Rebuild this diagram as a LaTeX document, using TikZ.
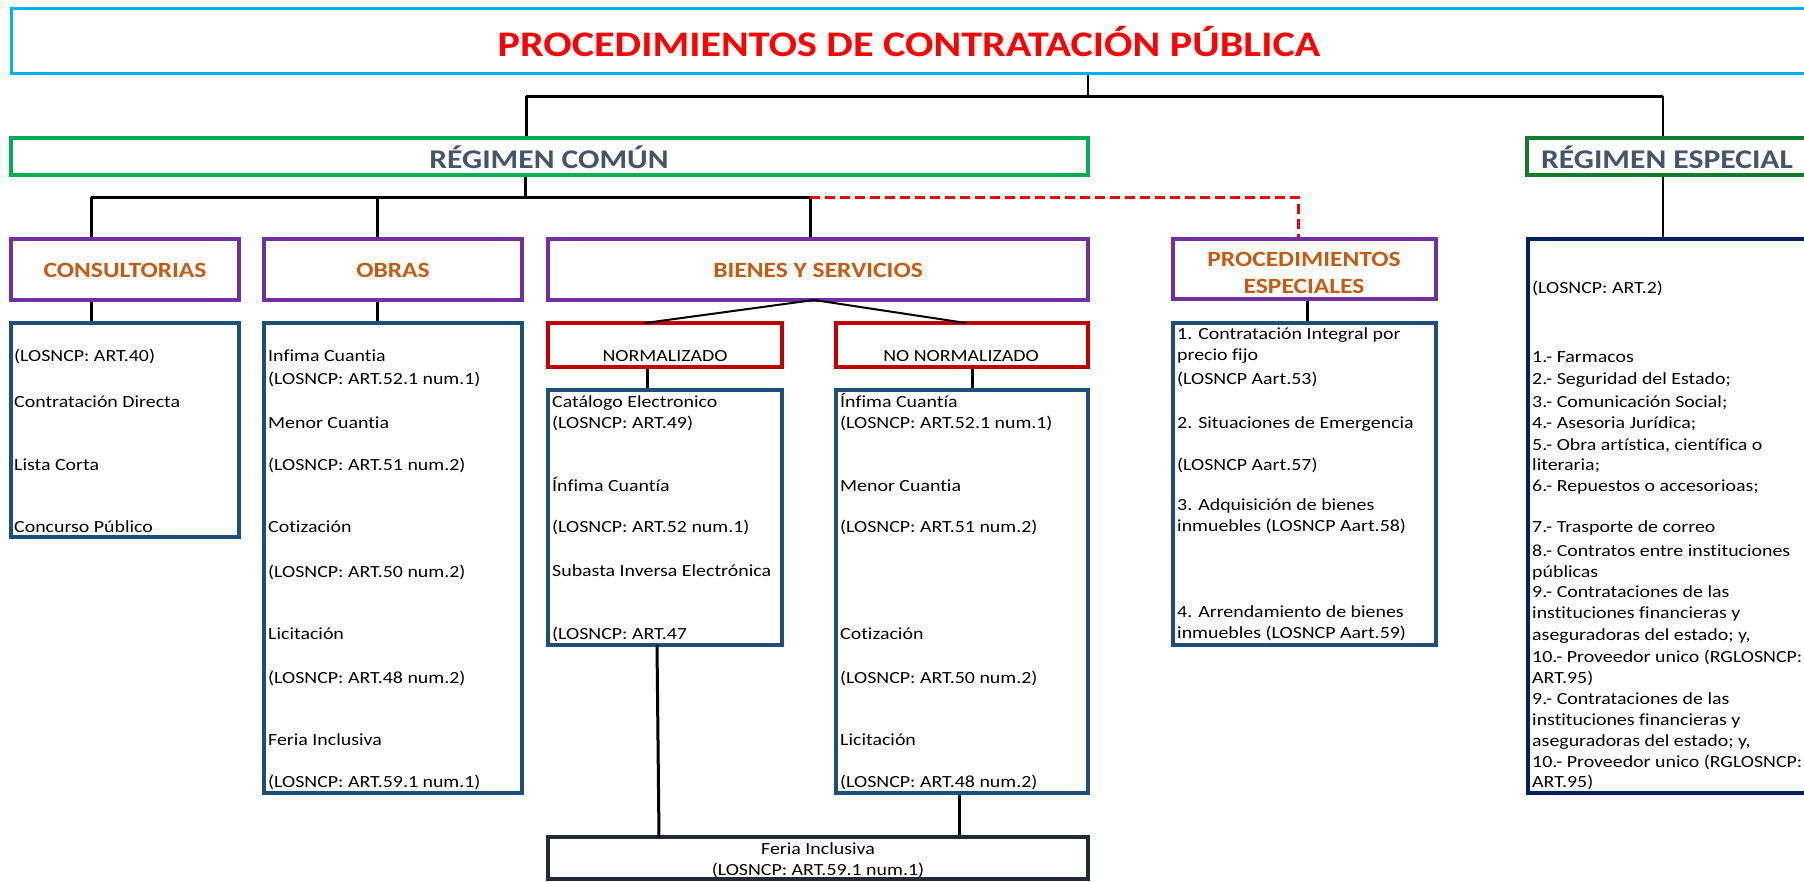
\documentclass[tikz,border=0pt]{standalone}
\usepackage{fontspec}
\setmainfont{Carlito}[FakeStretch=1.17, RawFeature={-liga;-clig;-calt;-dlig}]
\definecolor{titleblue}{HTML}{00B0F0}
\definecolor{titlered}{HTML}{FF0000}
\definecolor{rcgreen}{HTML}{00B050}
\definecolor{regreen}{HTML}{147A2E}
\definecolor{slate}{HTML}{44546A}
\definecolor{purp}{HTML}{7030A0}
\definecolor{orng}{HTML}{C55A11}
\definecolor{listblue}{HTML}{1F4E79}
\definecolor{navy}{HTML}{002060}
\definecolor{darkred}{HTML}{C00000}
\definecolor{feriaborder}{HTML}{222A35}
\tikzset{
  boxbase/.style={draw, line width=3.2pt, inner sep=0pt, rectangle},
  titlebox/.style={boxbase, draw=titleblue, line width=3pt},
  rcbox/.style={boxbase, draw=rcgreen},
  rebox/.style={boxbase, draw=regreen},
  headbox/.style={boxbase, draw=purp},
  listbox/.style={boxbase, draw=listblue},
  relist/.style={boxbase, draw=navy},
  normbox/.style={boxbase, draw=darkred},
  feriabox/.style={boxbase, draw=feriaborder},
  txt/.style={inner sep=0pt, anchor=west, text height=11pt, text depth=0pt, font=\fontsize{17}{20}\selectfont},
  ctxt/.style={txt, anchor=center},
  headtxt/.style={inner sep=0pt, text=orng, font=\fontsize{21.8}{27}\selectfont\bfseries, align=center},
  regtxt/.style={inner sep=0pt, text=slate, font=\fontsize{27}{32}\selectfont\bfseries},
  conn/.style={line width=3pt, black},
  thin/.style={line width=2pt, black},
  dashconn/.style={line width=3pt, darkred!20!red, dash pattern=on 10pt off 5pt},
}
\newcommand\mkbox[6]{\node[#1, minimum width={#4-#2}, minimum height={#5-#3}] (#6) at ({(#2+#4)/2},{(#3+#5)/2}) {};}
\begin{document}
\begin{tikzpicture}[x=1pt,y=-1pt]
\useasboundingbox (0,0) rectangle (1804,881);
\clip (0,0) rectangle (1804,881);
% boxes
\mkbox{titlebox}{11}{8}{1808}{73}{title}
\mkbox{rcbox}{11}{138}{1088}{175}{rc}
\mkbox{rebox}{1527}{138}{1808}{175}{re}
\mkbox{headbox}{11}{239}{239}{300}{cons}
\mkbox{headbox}{264}{239}{522}{300}{obras}
\mkbox{headbox}{548}{239}{1088}{300}{bienes}
\mkbox{headbox}{1173}{239}{1436}{299}{pe}
\mkbox{listbox}{11}{323}{239}{537}{consl}
\mkbox{listbox}{264}{323}{522}{793}{obrasl}
\mkbox{normbox}{548}{323}{782}{367}{norm}
\mkbox{normbox}{836}{323}{1088}{367}{nonorm}
\mkbox{listbox}{548}{390}{782}{645}{norml}
\mkbox{listbox}{836}{390}{1088}{793}{nonorml}
\mkbox{listbox}{1173}{323}{1436}{645}{pel}
\mkbox{relist}{1528}{239}{1808}{793}{rel}
\mkbox{feriabox}{548}{837}{1088}{879}{feria}
% titles
\node[inner sep=0pt, text=titlered, font=\fontsize{36}{40}\selectfont\bfseries] (titletxt) at (909,42) {PROCEDIMIENTOS DE CONTRATACIÓN PÚBLICA};
\node[regtxt] (rctxt) at (549,157) {RÉGIMEN COMÚN};
\node[regtxt] (retxt) at (1667,157) {RÉGIMEN ESPECIAL};
\node[headtxt] (constxt) at (125,270) {CONSULTORIAS};
\node[headtxt] (obrastxt) at (393,270) {OBRAS};
\node[headtxt] (bientxt) at (818,270) {BIENES Y SERVICIOS};
\node[headtxt] (petxt) at (1304,273) {PROCEDIMIENTOS\\ESPECIALES};
\node[ctxt] (normtxt) at (665,356) {NORMALIZADO};
\node[ctxt] (nonormtxt) at (961,356) {NO NORMALIZADO};
\node[ctxt] (feria1) at (818,849) {Feria Inclusiva};
\node[ctxt] (feria2) at (818,870) {(LOSNCP: ART.59.1 num.1)};
% list texts
\foreach \yy/\tx [count=\i] in {356/{(LOSNCP: ART.40)}, 402/{Contratación Directa}, 465/{Lista Corta}, 527/{Concurso Público}}
  \node[txt] (ca\i) at (14,\yy) {\tx};
\foreach \yy/\tx [count=\i] in {356/{Infima Cuantia}, 379/{(LOSNCP: ART.52.1 num.1)}, 423/{Menor Cuantia}, 465/{(LOSNCP: ART.51 num.2)}, 527/{Cotización}, 572/{(LOSNCP: ART.50 num.2)}, 634/{Licitación}, 678/{(LOSNCP: ART.48 num.2)}, 740/{Feria Inclusiva}, 782/{(LOSNCP: ART.59.1 num.1)}}
  \node[txt] (ob\i) at (268,\yy) {\tx};
\foreach \yy/\tx [count=\i] in {402/{Catálogo Electronico}, 423/{(LOSNCP: ART.49)}, 486/{Ínfima Cuantía}, 527/{(LOSNCP: ART.52 num.1)}, 571/{Subasta Inversa Electrónica}, 634/{(LOSNCP: ART.47}}
  \node[txt] (nm\i) at (552,\yy) {\tx};
\foreach \yy/\tx [count=\i] in {402/{Ínfima Cuantía}, 423/{(LOSNCP: ART.52.1 num.1)}, 486/{Menor Cuantia}, 527/{(LOSNCP: ART.51 num.2)}, 634/{Cotización}, 678/{(LOSNCP: ART.50 num.2)}, 740/{Licitación}, 782/{(LOSNCP: ART.48 num.2)}}
  \node[txt] (nn\i) at (840,\yy) {\tx};
\foreach \yy/\tx [count=\i] in {334/{1. Contratación Integral por}, 355/{precio fijo}, 379/{(LOSNCP Aart.53)}, 423/{2. Situaciones de Emergencia}, 465/{(LOSNCP Aart.57)}, 505/{3. Adquisición de bienes}, 526/{inmuebles (LOSNCP Aart.58)}, 612/{4. Arrendamiento de bienes}, 633/{inmuebles (LOSNCP Aart.59)}}
  \node[txt] (pe\i) at (1177,\yy) {\tx};
\foreach \yy/\tx [count=\i] in {288/{(LOSNCP: ART.2)}, 357/{1.- Farmacos}, 379/{2.- Seguridad del Estado;}, 402/{3.- Comunicación Social;}, 423/{4.- Asesoria Jurídica;}, 445/{5.- Obra artística, científica o}, 465/{literaria;}, 486/{6.- Repuestos o accesorioas;}, 527/{7.- Trasporte de correo}, 551/{8.- Contratos entre instituciones}, 572/{públicas}, 592/{9.- Contrataciones de las}, 613/{instituciones financieras y}, 635/{aseguradoras del estado; y,}, 657/{10.- Proveedor unico (RGLOSNCP:}, 678/{ART.95)}, 699/{9.- Contrataciones de las}, 720/{instituciones financieras y}, 741/{aseguradoras del estado; y,}, 762/{10.- Proveedor unico (RGLOSNCP:}, 782/{ART.95)}}
  \node[txt] (re\i) at (1532,\yy) {\tx};
% connectors
\coordinate (j0) at (1088,96);
\coordinate (jl) at (526,96);
\coordinate (jr) at (1663,96);
\draw[thin] (title.south -| j0) -- (j0);
\draw[conn] (jl) -- (jr);
\draw[conn] (jl) -- (jl |- rc.north);
\draw[thin] (jr) -- (jr |- re.north);
\coordinate (k0) at (525,197);
\coordinate (k1) at (91,197);
\coordinate (k2) at (377,197);
\coordinate (k3) at (810,197);
\coordinate (k4) at (1298,197);
\draw[conn] (rc.south -| k0) -- (k0);
\draw[conn] (k1) -- (k3);
\draw[conn] (k1) -- (k1 |- cons.north);
\draw[conn] (k2) -- (k2 |- obras.north);
\draw[conn] (k3) -- (k3 |- bienes.north);
\draw[dashconn] (k3) -- (k4) -- (k4 |- pe.north);
\draw[conn] (cons.south -| k1) -- (consl.north -| k1);
\draw[conn] (obras.south -| k2) -- (obrasl.north -| k2);
\coordinate (apex) at (814,300);
\coordinate (nl) at (645,323);
\coordinate (nr) at (966,323);
\draw[thin] (apex) -- (nl);
\draw[thin] (apex) -- (nr);
\coordinate (m1) at (647,0);
\coordinate (m2) at (972,0);
\draw[conn] (norm.south -| m1) -- (norml.north -| m1);
\draw[conn] (nonorm.south -| m2) -- (nonorml.north -| m2);
\coordinate (f1) at (657,645);
\coordinate (f2) at (659,837);
\coordinate (f3) at (959,0);
\draw[conn] (f1) -- (f2);
\draw[conn] (nonorml.south -| f3) -- (feria.north -| f3);
\coordinate (p1) at (1307,0);
\draw[conn] (pe.south -| p1) -- (pel.north -| p1);
\draw[thin] (re.south -| jr) -- (rel.north -| jr);
\end{tikzpicture}
\end{document}
